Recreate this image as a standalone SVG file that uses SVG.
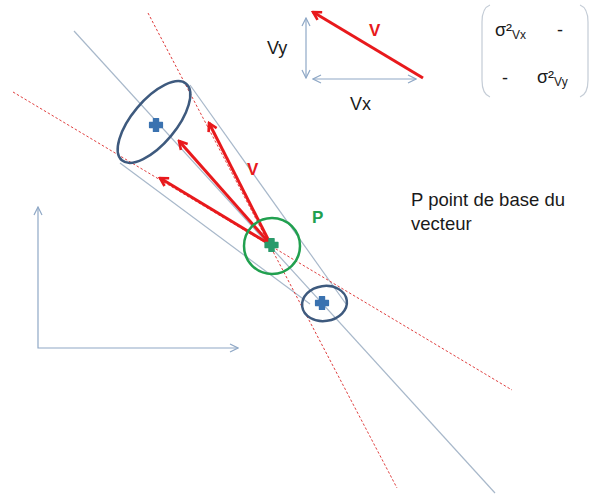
<svg xmlns="http://www.w3.org/2000/svg" xmlns:xlink="http://www.w3.org/1999/xlink" width="596" height="495" viewBox="0 0 596 495">
<style>
  .guide { stroke: #a8b8ca; stroke-width: 1.2; fill: none; }
  .dash { stroke: #e04040; stroke-width: 1; stroke-dasharray: 2.5 2; fill: none; }
  .vec { stroke: #e8191c; stroke-width: 3; fill: none; marker-end: url(#redHead); }
  .axis { stroke: #8fa8c6; stroke-width: 1.2; fill: none; }
  .ell { stroke: #3e5a7e; stroke-width: 2.5; fill: none; }
  .txt { font-family: "Liberation Sans", Arial, sans-serif; fill: #1a1a1a; }
  .red { font-family: "Liberation Sans", Arial, sans-serif; font-weight: bold; fill: #e8191c; }
  .grn { font-family: "Liberation Sans", Arial, sans-serif; font-weight: bold; fill: #21a04f; }
</style>
<defs>
  <marker id="redHead" viewBox="0 0 12 12" refX="10" refY="6" markerWidth="12" markerHeight="12" markerUnits="userSpaceOnUse" orient="auto">
    <path d="M2,1.5 L10,6 L2,10.5" fill="none" stroke="#e8191c" stroke-width="2.6"/>
  </marker>
  <marker id="axHead" viewBox="0 0 10 10" refX="9" refY="5" markerWidth="10" markerHeight="10" markerUnits="userSpaceOnUse" orient="auto-start-reverse">
    <path d="M1,1 L9,5 L1,9" fill="none" stroke="#8fa8c6" stroke-width="1.2"/>
  </marker>
  <path id="plus" d="M-2.6,-6.5 h5.2 v3.9 h3.9 v5.2 h-3.9 v3.9 h-5.2 v-3.9 h-3.9 v-5.2 h3.9 z" stroke-linejoin="round" stroke-width="1.2"/>
</defs>
<rect width="596" height="495" fill="#ffffff"/>

<g id="connectors">
  <!-- guide lines (cone) -->
  <line class="guide" x1="74" y1="31" x2="495" y2="493"/>
  <line class="guide" x1="190" y1="85" x2="346" y2="304"/>
  <line class="guide" x1="120" y1="163" x2="310" y2="304"/>
  <!-- red dotted limit lines -->
  <line class="dash" x1="148" y1="13" x2="397" y2="488"/>
  <line class="dash" x1="13" y1="92" x2="512" y2="390"/>
  <!-- velocity vectors from P -->
  <line class="vec" x1="271" y1="245" x2="209" y2="123"/>
  <line class="vec" x1="271" y1="245" x2="179" y2="141"/>
  <line class="vec" x1="271" y1="245" x2="160" y2="178"/>
</g>

<g id="ellipse-big">
  <ellipse class="ell" cx="154" cy="122" rx="50" ry="22" transform="rotate(-50 154 122)"/>
  <use href="#plus" x="156" y="125" fill="#3a72b0" stroke="#3a72b0"/>
</g>

<g id="ellipse-small">
  <ellipse class="ell" cx="324.5" cy="303.5" rx="22.5" ry="17.5" transform="rotate(-8 324.5 303.5)"/>
  <use href="#plus" x="322" y="303" fill="#3a72b0" stroke="#3a72b0"/>
</g>

<g id="point-P">
  <circle cx="272" cy="246" r="28" fill="none" stroke="#21a04f" stroke-width="2.5"/>
  <use href="#plus" x="271.5" y="245" fill="#2a9a6a" stroke="#2a9a6a"/>
  <text class="grn" x="312" y="223" font-size="17">P</text>
</g>

<g id="label-V">
  <text class="red" x="247" y="175" font-size="17">V</text>
</g>

<g id="caption">
  <text class="txt" x="411" y="206" font-size="18.5">P point de base du</text>
  <text class="txt" x="411" y="230" font-size="18.5">vecteur</text>
</g>

<g id="axes">
  <polyline class="axis" points="38,207 38,348 238,348" marker-start="url(#axHead)" marker-end="url(#axHead)"/>
</g>

<g id="inset">
  <line class="axis" x1="306" y1="18" x2="306" y2="78" marker-start="url(#axHead)" marker-end="url(#axHead)"/>
  <line class="axis" x1="313" y1="79" x2="416" y2="79" marker-start="url(#axHead)" marker-end="url(#axHead)"/>
  <line class="vec" x1="423" y1="78" x2="313" y2="12"/>
  <text class="red" x="369" y="36" font-size="17">V</text>
  <text class="txt" x="267" y="54" font-size="18">Vy</text>
  <text class="txt" x="350" y="110" font-size="18">Vx</text>
</g>

<g id="matrix">
  <path d="M490,5 Q482,8 482,22 L482,80 Q482,94 490,97" fill="none" stroke="#c4ccd6" stroke-width="1.2"/>
  <path d="M580,5 Q588,8 588,22 L588,80 Q588,94 580,97" fill="none" stroke="#c4ccd6" stroke-width="1.2"/>
  <text class="txt" x="495" y="36" font-size="18">σ²<tspan font-size="12" dy="3">Vx</tspan></text>
  <text class="txt" x="557" y="36" font-size="18">-</text>
  <text class="txt" x="502" y="84" font-size="18">-</text>
  <text class="txt" x="537" y="83" font-size="18">σ²<tspan font-size="12" dy="3">Vy</tspan></text>
</g>
</svg>
